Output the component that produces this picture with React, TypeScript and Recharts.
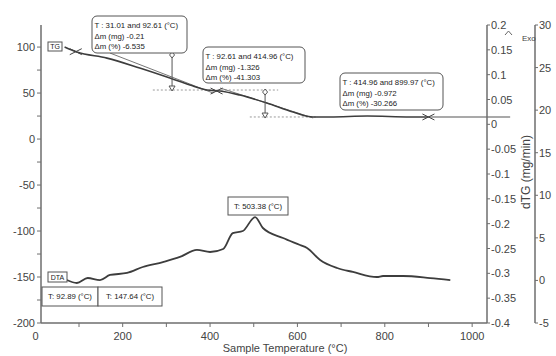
import React from "react";
import {
  ComposedChart,
  Line,
  XAxis,
  YAxis,
  ReferenceLine,
  ReferenceDot,
} from "recharts";

// TG curve, mass (%) against sample temperature (°C)
const tgTemp = [67, 95, 164, 239, 308, 354, 393, 423, 468, 530, 590, 636, 675, 760, 858, 900];
const tgMass = [100, 94.6, 88, 77.2, 66.3, 58.7, 53.3, 52.2, 47.8, 39.2, 29.4, 24, 24, 25, 24, 24];

// DTA curve, read on the left scale
const dtaTemp = [72, 95, 120, 148, 171, 210, 246, 292, 331, 370, 400, 430, 452, 475, 503, 521, 567, 606, 622, 652, 691, 727, 782, 796, 842, 904, 950];
const dtaValue = [-153.3, -156.5, -151.1, -153.3, -147.8, -145.6, -139.1, -133.7, -128.2, -120.6, -122.8, -119.5, -102.2, -100, -84.8, -96.7, -107.6, -115.2, -118.4, -131.5, -140.2, -144.5, -150, -148.9, -148.9, -151.1, -153.3];

// step analysis
const tangentTemp = [[171, 407], [423, 636]];
const tangentMass = [[93.5, 50], [55.5, 22.9]];
const stepTemp = [92.61, 414.96, 899.97];
const stepMass = [95, 52.2, 24];
const levelMass = [53.3, 24];
const levelFrom = [269, 491];
const levelTo = [556, 647];
const arrowTemp = [313, 526];
const arrowTop = [91.4, 51.1];
const arrowBottom = [54.4, 25];
const baselineTemp = [900, 1087];

const stepLabels = [
  ["T : 31.01 and 92.61 (°C)", "Δm (mg) -0.21", "Δm (%) -6.535"],
  ["T : 92.61 and 414.96 (°C)", "Δm (mg) -1.326", "Δm (%) -41.303"],
  ["T : 414.96 and 899.97 (°C)", "Δm (mg) -0.972", "Δm (%) -30.266"],
];
const peakLabel = "T: 503.38 (°C)";
const dtaLabels = ["T: 92.89 (°C)", "T: 147.64 (°C)"];

// axes
const xDomain = [13, 1034];
const xTicks = [100, 200, 300, 400, 500, 600, 700, 800, 900, 1000];
const leftTicks = [-200, -175, -150, -125, -100, -75, -50, -25, 0, 25, 50, 75, 100];
const dtgTicks = [0.2, 0.15, 0.1, 0.05, 0, -0.05, -0.1, -0.15, -0.2, -0.25, -0.3, -0.35, -0.4];
const exoTicks = [30, 25, 20, 15, 10, 5, 0, -5];

const tgData = tgTemp.map((t, i) => ({ t, v: tgMass[i] }));
const dtaData = dtaTemp.map((t, i) => ({ t, v: dtaValue[i] }));
const tangents = tangentTemp.map((ts, i) => ts.map((t, j) => ({ t, v: tangentMass[i][j] })));

const axisColor = "#6e6e6e";
const textColor = "#444";
const curveColor = "#3d3d3d";
const font = "'Liberation Sans', Arial, sans-serif";

const XTick = ({ x, y, payload }: any) => (
  <g>
    <line x1={x} x2={x} y1={y} y2={y + 4} stroke={axisColor} />
    {payload.value % 200 === 0 && (
      <text x={x} y={y + 17} textAnchor="middle" fontSize={11} fill={textColor}>
        {payload.value}
      </text>
    )}
  </g>
);

const LeftTick = ({ x, y, payload }: any) => (
  <g>
    <line x1={x - 4} x2={x} y1={y} y2={y} stroke={axisColor} />
    {payload.value % 50 === 0 && (
      <text x={x - 6} y={y + 4} textAnchor="end" fontSize={11} fill={textColor}>
        {payload.value}
      </text>
    )}
  </g>
);

const RightTick = ({ x, y, payload }: any) => (
  <g>
    <line x1={x} x2={x + 3} y1={y} y2={y} stroke={axisColor} />
    <text x={x + 4} y={y + 4} textAnchor="start" fontSize={11} fill={textColor}>
      {String(payload.value)}
    </text>
  </g>
);

const StepMark = ({ cx, cy }: any) => (
  <path
    d={`M${cx - 6},${cy - 3}L${cx + 6},${cy + 3}M${cx - 6},${cy + 3}L${cx + 6},${cy - 3}`}
    stroke="#444"
    strokeWidth={1}
    fill="none"
  />
);

const ArrowUp = ({ cx, cy }: any) => (
  <path d={`M${cx},${cy - 3}L${cx + 2.5},${cy}L${cx},${cy + 3}L${cx - 2.5},${cy}Z`} stroke="#555" fill="#fff" />
);

const ArrowDown = ({ cx, cy }: any) => (
  <path d={`M${cx - 3},${cy - 3}L${cx + 3},${cy - 3}L${cx},${cy + 2}Z`} stroke="#555" fill="#fff" />
);

function InfoBox({ x, y, w, h, lines, r = 5 }: any) {
  return (
    <g>
      <rect x={x} y={y} width={w} height={h} rx={r} fill="#fff" stroke="#555" />
      {lines.map((s: string, i: number) => (
        <text key={i} x={x + 2.5} y={y + 12 + i * 10.5} fontSize={7.8} fill="#222">
          {s}
        </text>
      ))}
    </g>
  );
}

function Tag({ x, y, w, h, text, size = 7.8 }: any) {
  return (
    <g>
      <rect x={x} y={y} width={w} height={h} fill="#fff" stroke="#555" />
      <text x={x + w / 2} y={y + h / 2 + size * 0.36} textAnchor="middle" fontSize={size} fill="#222">
        {text}
      </text>
    </g>
  );
}

export default function App() {
  return (
    <div style={{ position: "relative", width: 556, height: 356, fontFamily: font, background: "#fff" }}>
      <style>{"body{margin:0}"}</style>
      <ComposedChart width={556} height={356} margin={{ top: 25, right: 0, bottom: 0, left: 0 }}>
        <XAxis
          type="number"
          dataKey="t"
          domain={xDomain}
          ticks={xTicks}
          interval={0}
          height={33}
          tickSize={0}
          tickMargin={0}
          tickLine={false}
          tick={XTick}
          axisLine={{ stroke: axisColor, strokeWidth: 1.5 }}
          allowDataOverflow
        />
        <YAxis
          yAxisId="left"
          domain={[-200, 124]}
          ticks={leftTicks}
          interval={0}
          width={41}
          tickSize={0}
          tickMargin={0}
          tickLine={false}
          tick={LeftTick}
          axisLine={{ stroke: axisColor, strokeWidth: 1.5 }}
          allowDataOverflow
        />
        <YAxis
          yAxisId="dtg"
          orientation="right"
          type="number"
          domain={[-0.4, 0.2]}
          ticks={dtgTicks}
          interval={0}
          width={48}
          tickSize={0}
          tickMargin={0}
          tickLine={false}
          tick={RightTick}
          axisLine={{ stroke: axisColor, strokeWidth: 1.5 }}
          allowDataOverflow
        />
        <YAxis
          yAxisId="exo"
          orientation="right"
          type="number"
          domain={[-5, 30]}
          ticks={exoTicks}
          interval={0}
          width={21}
          tickSize={0}
          tickMargin={0}
          tickLine={false}
          tick={RightTick}
          axisLine={{ stroke: axisColor, strokeWidth: 1.5 }}
          allowDataOverflow
        />

        {levelMass.map((m, i) => (
          <ReferenceLine
            key={`lvl${i}`}
            yAxisId="left"
            segment={[{ x: levelFrom[i], y: m }, { x: levelTo[i], y: m }]}
            stroke="#9a9a9a"
            strokeDasharray="2 2"
          />
        ))}
        {tangents.map((d, i) => (
          <Line
            key={`tan${i}`}
            yAxisId="left"
            data={d}
            dataKey="v"
            type="linear"
            stroke="#777"
            strokeWidth={1}
            dot={false}
            isAnimationActive={false}
          />
        ))}
        <ReferenceLine
          yAxisId="left"
          segment={[{ x: baselineTemp[0], y: stepMass[2] }, { x: baselineTemp[1], y: stepMass[2] }]}
          stroke="#555"
          strokeWidth={1.2}
          ifOverflow="visible"
        />
        <Line
          yAxisId="left"
          data={tgData}
          dataKey="v"
          type="monotone"
          stroke={curveColor}
          strokeWidth={1.6}
          dot={false}
          isAnimationActive={false}
        />
        <Line
          yAxisId="left"
          data={dtaData}
          dataKey="v"
          type="monotone"
          stroke={curveColor}
          strokeWidth={1.8}
          dot={false}
          isAnimationActive={false}
        />
        {/* keeps the two right-hand scales tied to a series */}
        <Line yAxisId="dtg" data={[]} dataKey="v" dot={false} isAnimationActive={false} />
        <Line yAxisId="exo" data={[]} dataKey="v" dot={false} isAnimationActive={false} />
        {arrowTemp.map((t, i) => (
          <ReferenceLine
            key={`arr${i}`}
            yAxisId="left"
            segment={[{ x: t, y: arrowTop[i] }, { x: t, y: arrowBottom[i] }]}
            stroke="#555"
          />
        ))}
        {arrowTemp.map((t, i) => (
          <ReferenceDot key={`au${i}`} yAxisId="left" x={t} y={arrowTop[i]} r={3} shape={ArrowUp} />
        ))}
        {arrowTemp.map((t, i) => (
          <ReferenceDot key={`ad${i}`} yAxisId="left" x={t} y={arrowBottom[i]} r={3} shape={ArrowDown} />
        ))}
        {stepTemp.map((t, i) => (
          <ReferenceDot key={`st${i}`} yAxisId="left" x={t} y={stepMass[i]} r={4} shape={StepMark} />
        ))}
      </ComposedChart>

      <svg
        width={556}
        height={356}
        style={{ position: "absolute", left: 0, top: 0, pointerEvents: "none", fontFamily: font }}
      >
        <InfoBox x={92} y={16} w={95} h={37} lines={stepLabels[0]} />
        <InfoBox x={203} y={47} w={102} h={36} lines={stepLabels[1]} />
        <InfoBox x={340} y={73} w={103} h={37} lines={stepLabels[2]} />
        <Tag x={48} y={42} w={14} h={9} text="TG" size={7} />
        <Tag x={48} y={272} w={19} h={10} text="DTA" size={7} />
        <Tag x={228} y={197} w={60} h={18} text={peakLabel} />
        <Tag x={42} y={287} w={56} h={19} text={dtaLabels[0]} />
        <Tag x={98} y={287} w={64} h={19} text={dtaLabels[1]} />
        <text x={35.5} y={340} textAnchor="middle" fontSize={11} fill={textColor}>0</text>
        <path d="M505,35L508.5,31L512,35" stroke="#666" fill="none" />
        <text x={522} y={41} fontSize={8} fill={textColor}>Exo</text>
        <text
          x={526}
          y={172}
          transform="rotate(-90 526 172)"
          textAnchor="middle"
          dominantBaseline="central"
          fontSize={12}
          fill={textColor}
        >
          dTG (mg/min)
        </text>
        <text x={285} y={352} textAnchor="middle" fontSize={11} fill={textColor}>
          Sample Temperature (°C)
        </text>
      </svg>
    </div>
  );
}
